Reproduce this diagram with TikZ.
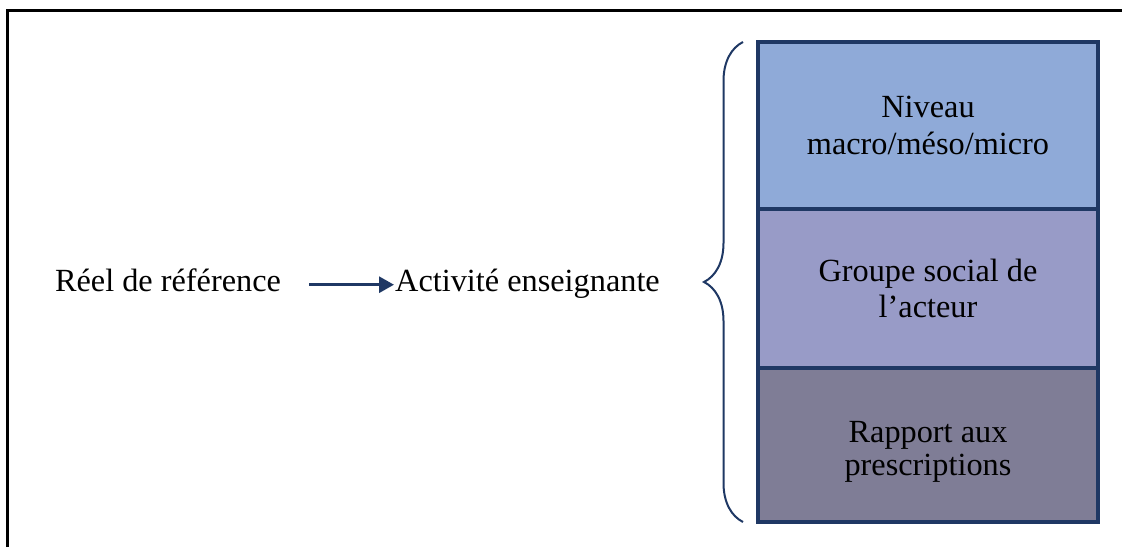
\documentclass[tikz,border=0pt]{standalone}
\usepackage{fontspec}
\setmainfont{Liberation Serif}
\usepackage{tikz}
\usetikzlibrary{positioning}
\usetikzlibrary{arrows.meta}
\usetikzlibrary{decorations.pathreplacing}
\usepackage{xcolor}
\definecolor{navy}{RGB}{31,56,100}
\definecolor{niveaufill}{RGB}{143,170,216}
\definecolor{groupefill}{RGB}{152,155,199}
\definecolor{rapportfill}{RGB}{127,125,150}

\begin{document}
\begin{tikzpicture}[x=1pt,y=1pt]
\tikzset{>={Triangle[width=16pt,length=15pt]}}
\tikzstyle{txt} =[inner sep=0pt,font=\fontsize{32.3}{36.5}\selectfont]
\tikzstyle{level} =[draw=navy,line width=4pt,minimum width=340pt,align=center,inner sep=0pt,outer sep=0pt,font=\fontsize{32.3}{36.5}\selectfont]

\useasboundingbox (0,0) rectangle (1122,547);
\draw[line width=3pt] (7,0) -- (7,536) -- (1122,536);

\node[txt,anchor=base](reel) at (168,255){Réel de référence};
\node[txt,anchor=base west](activite) at (395,255){Activité enseignante};
\draw [->,line width=3pt,navy,shorten <=28pt,shorten >=1pt] ([yshift=5pt]reel.mid east) to ([yshift=5pt]activite.mid west);

\node[level,fill=niveaufill,minimum height=167pt,anchor=north](niveau) at (928,505){Niveau\\macro/méso/micro};
\node[level,fill=groupefill,minimum height=159pt,below=0pt of niveau](groupe){Groupe social de\\l’acteur};
\node[level,fill=rapportfill,minimum height=154pt,below=0pt of groupe](rapport){\raisebox{-13pt}[0pt][0pt]{\begin{tabular}{@{}c@{}}Rapport aux\\[-3pt]prescriptions\end{tabular}}};

\draw[navy,line width=2pt,decorate,decoration={brace,amplitude=39pt}]
  ([xshift=-15pt]rapport.south west) -- ([xshift=-15pt]niveau.north west);
\end{tikzpicture}
\end{document}
